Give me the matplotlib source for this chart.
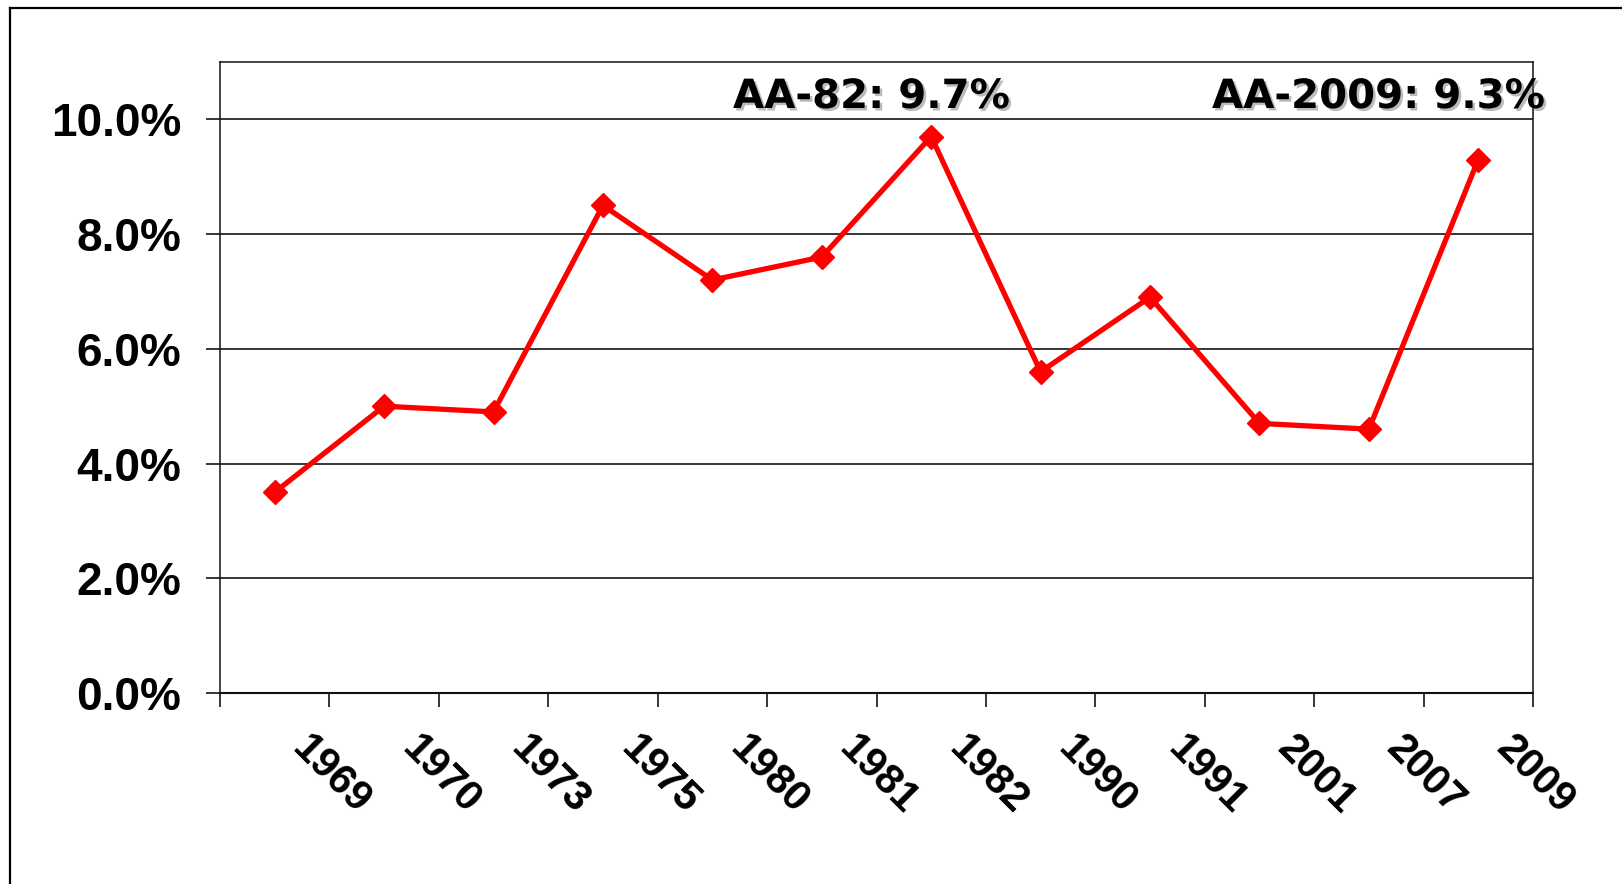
import matplotlib
matplotlib.use("Agg")
import matplotlib.pyplot as plt
import matplotlib.patheffects as pe
from matplotlib.lines import Line2D
from matplotlib.transforms import ScaledTranslation
from matplotlib.ticker import FuncFormatter, FixedLocator
import numpy as np

# ---- data ----
years = ["1969", "1970", "1973", "1975", "1980", "1981", "1982",
         "1990", "1991", "2001", "2007", "2009"]
rates = [3.5, 5.0, 4.9, 8.5, 7.2, 7.6, 9.7, 5.6, 6.9, 4.7, 4.6, 9.3]
yticks = [0, 2, 4, 6, 8, 10]
annotations = ["AA-82: 9.7%", "AA-2009: 9.3%"]

W, H, DPI = 1622, 884, 100
fig = plt.figure(figsize=(W / DPI, H / DPI), dpi=DPI)
fig.patch.set_facecolor("white")

# outer frame (only top and left visible)
fig.add_artist(Line2D([10 / W, 1.0], [1 - 8 / H, 1 - 8 / H], transform=fig.transFigure,
                      color="black", lw=1.6))
fig.add_artist(Line2D([10 / W, 10 / W], [0, 1 - 8 / H], transform=fig.transFigure,
                      color="black", lw=1.6))

L, R, T, B = 220, 1533, 62, 693
ax = fig.add_axes([L / W, 1 - B / H, (R - L) / W, (B - T) / H])

x = np.arange(len(years))
ax.plot(x, rates, color="#ff0000", lw=3.8, marker="D", ms=12,
        markerfacecolor="#ff0000", markeredgecolor="#ff0000", zorder=5, clip_on=False)

ax.set_xlim(-0.5, len(years) - 0.5)
ax.set_ylim(0, 11)

# y axis
ax.set_yticks(yticks)
ax.yaxis.set_major_formatter(FuncFormatter(lambda v, p: f"{v:.1f}%"))
ax.yaxis.grid(True, color="black", lw=1.1)
ax.set_axisbelow(True)
ax.tick_params(axis="y", direction="out", length=10, width=1.1, pad=18,
               labelsize=33, colors="black")
for lab in ax.get_yticklabels():
    lab.set_fontfamily("Liberation Sans")
    lab.set_fontweight("bold")

# x axis: major ticks at category boundaries, labels at centers (minor)
ax.xaxis.set_major_locator(FixedLocator(np.arange(-0.5, len(years), 1.0)))
ax.set_xticklabels([])
ax.tick_params(axis="x", which="major", direction="out", length=10, width=1.1)
ax.set_xticks(x, minor=True)
ax.set_xticklabels(years, minor=True)
ax.tick_params(axis="x", which="minor", length=0, pad=0)
offset = ScaledTranslation(0.38, -0.35, fig.dpi_scale_trans)
for lab in ax.get_xticklabels(minor=True):
    lab.set_rotation(-45)
    lab.set_rotation_mode("anchor")
    lab.set_ha("left")
    lab.set_va("top")
    lab.set_fontsize(30)
    lab.set_fontfamily("Liberation Sans")
    lab.set_fontweight("bold")
    lab.set_transform(lab.get_transform() + offset)

for s in ax.spines.values():
    s.set_color("#111111")
    s.set_linewidth(1.1)
ax.spines["bottom"].set_linewidth(1.5)

# annotations
shadow = [pe.SimplePatchShadow(offset=(1.8, -1.8), shadow_rgbFace="#555555", alpha=0.4),
          pe.Normal()]
ax.text((733 - L) / (R - L), (B - 108) / (B - T), annotations[0], transform=ax.transAxes,
        ha="left", va="baseline", fontsize=29, fontweight="bold",
        family="DejaVu Sans", color="black", path_effects=shadow, clip_on=False)
ax.text((1212 - L) / (R - L), (B - 108) / (B - T), annotations[1], transform=ax.transAxes,
        ha="left", va="baseline", fontsize=29, fontweight="bold",
        family="DejaVu Sans", color="black", path_effects=shadow, clip_on=False)

fig.savefig("out.png", dpi=DPI, facecolor="white")
